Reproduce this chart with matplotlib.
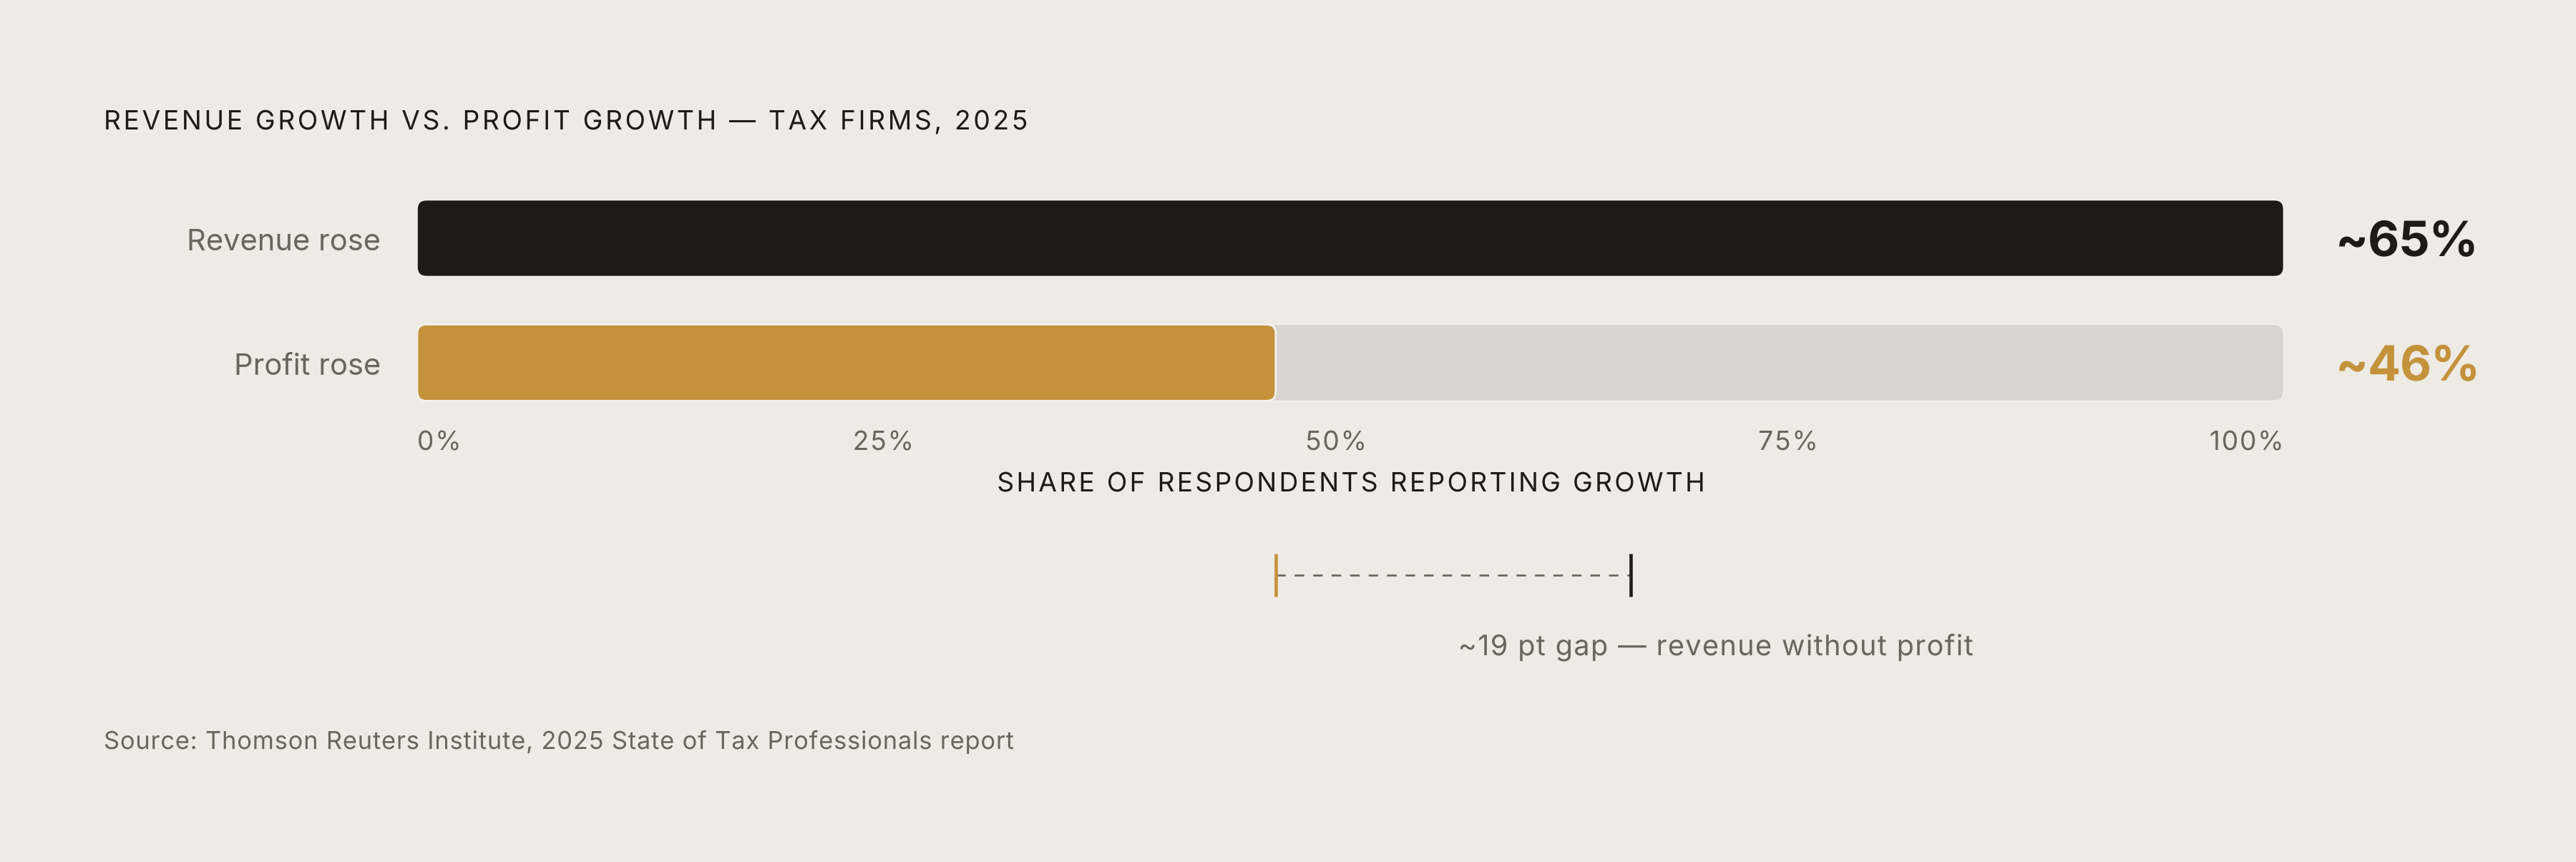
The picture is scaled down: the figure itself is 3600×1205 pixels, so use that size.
import numpy as np
import matplotlib
matplotlib.use("Agg")
import matplotlib.pyplot as plt
from matplotlib.patches import FancyBboxPatch
from matplotlib.path import Path
from matplotlib.patheffects import AbstractPathEffect
from matplotlib.textpath import text_to_path
from matplotlib.transforms import ScaledTranslation, blended_transform_factory

# ---------------- data ----------------
categories = ["Revenue rose", "Profit rose"]
values = [65, 46]
value_labels = ["~65%", "~46%"]
track_max = 100
tick_values = [0, 25, 50, 75, 100]
tick_labels = ["0%", "25%", "50%", "75%", "100%"]
title = "REVENUE GROWTH VS. PROFIT GROWTH — TAX FIRMS, 2025"
xlabel = "SHARE OF RESPONDENTS REPORTING GROWTH"
gap_label = "~19 pt gap — revenue without profit"
source = "Source: Thomson Reuters Institute, 2025 State of Tax Professionals report"

# ---------------- style ----------------
BG = "#EEEAE4"
DARK = "#1E1B16"
GOLD = "#C4923B"
TRACK = "#D9D6CF"
GREY = "#6A665E"
EDGE = "#F4F1EC"
bar_colors = [DARK, GOLD]
track_colors = [DARK, TRACK]

plt.rcParams["font.family"] = ["Inter", "DejaVu Sans"]
plt.rcParams["lines.scale_dashes"] = False

W, H, DPI = 3600, 1206, 300
fig = plt.figure(figsize=(W / DPI, H / DPI), dpi=DPI, facecolor=BG)


def fx(px):
    return px / W


def fy(py):
    return 1 - py / H


class Tracking(AbstractPathEffect):
    """Letter-spacing for a single Text object (keeps the text as one string)."""

    def __init__(self, s, prop, t_em, ha="left"):
        super().__init__()
        try:
            font = text_to_path._get_font(prop)
            info, _, _ = text_to_path.get_glyphs_with_font(font, s)
            self.xpos = np.array([g[1] for g in info], dtype=float)
        except Exception:
            self.xpos = np.array([0.0])
        self.T = t_em * text_to_path.FONT_SCALE
        n = len(self.xpos)
        self.shift0 = {"left": 0.0, "center": -(n - 1) * self.T / 2,
                       "right": -(n - 1) * self.T}[ha]

    def draw_path(self, renderer, gc, tpath, affine, rgbFace=None):
        v = np.array(tpath.vertices, dtype=float).copy()
        c = tpath.codes
        if c is not None and len(v):
            starts = np.flatnonzero(c == Path.MOVETO).tolist() + [len(c)]
            for a, b in zip(starts[:-1], starts[1:]):
                seg = v[a:b]
                m = c[a:b] != Path.CLOSEPOLY
                if not m.any():
                    continue
                cx = (seg[m, 0].min() + seg[m, 0].max()) / 2
                i = max(int(np.searchsorted(self.xpos, cx, side="right")) - 1, 0)
                v[a:b, 0] += i * self.T + self.shift0
        renderer.draw_path(gc, Path(v, c), affine, rgbFace)


def ttext(x, y, s, t_em, ha="left", **kw):
    txt = fig.text(x, y, s, ha=ha, **kw)
    txt.set_path_effects([Tracking(s, txt.get_fontproperties(), t_em, ha)])
    return txt


ax_left, ax_right = 583, 3191.5
ax_top, ax_bot = 247, 595
ax = fig.add_axes([fx(ax_left), fy(ax_bot), (ax_right - ax_left) / W, (ax_bot - ax_top) / H])
ax.set_xlim(0, track_max)
ax.set_ylim(len(categories) - 0.5, -0.5)
ax.axis("off")

px_per_x = (ax_right - ax_left) / track_max
px_per_y = (ax_bot - ax_top) / len(categories)
radius_px = 13
r = radius_px / px_per_x
aspect = px_per_x / px_per_y
bh = 0.615


def rbar(x0, width, yc, fc, ec, lw, z):
    p = FancyBboxPatch((x0, yc - bh / 2), width, bh,
                       boxstyle=f"round,pad=0,rounding_size={r}",
                       mutation_aspect=aspect, fc=fc, ec=ec, lw=lw, zorder=z)
    ax.add_patch(p)


for i, (cat, val) in enumerate(zip(categories, values)):
    rbar(0, track_max, i, track_colors[i], EDGE, 0.4, 1)
    if bar_colors[i] != track_colors[i]:
        rbar(0, val, i, bar_colors[i], EDGE, 0.7, 2)

# category labels (right aligned), value labels
fig_x_data_y = blended_transform_factory(fig.transFigure, ax.transData)
for i, cat in enumerate(categories):
    off = ScaledTranslation(0, -15.5 / DPI, fig.dpi_scale_trans)
    fig.text(fx(532), i, cat, transform=fig_x_data_y + off, ha="right", va="baseline",
             fontsize=10.0, color=GREY)
    off2 = ScaledTranslation(0, -25 / DPI, fig.dpi_scale_trans)
    ttext(fx(3264), i, value_labels[i], -0.015, ha="left", transform=fig_x_data_y + off2,
          va="baseline", fontsize=16.3, fontweight="bold", color=bar_colors[i])

# tick labels: spread edge-to-edge with equal gaps (space-between) under the track
tick_fs, tick_track = 8.9, 0.05
tick_texts = [ttext(0, fy(630), tl, tick_track, ha="left", va="baseline",
                    fontsize=tick_fs, color=GREY) for tl in tick_labels]
renderer = fig.canvas.get_renderer()
t_px = tick_track * tick_fs * DPI / 72
widths = [t.get_window_extent(renderer).width + (len(s) - 1) * t_px
          for t, s in zip(tick_texts, tick_labels)]
gap = (ax_right - ax_left - sum(widths)) / (len(tick_texts) - 1)
xcur = ax_left
for t, w in zip(tick_texts, widths):
    t.set_x(fx(xcur))
    xcur += w + gap

# axis label
data_x_fig_y = blended_transform_factory(ax.transData, fig.transFigure)
ttext(track_max / 2, fy(688), xlabel, 0.09, ha="center", transform=data_x_fig_y,
      va="baseline", fontsize=8.9, color=DARK)

# gap annotation
lo, hi = min(values), max(values)
ax.plot([lo, hi], [fy(805), fy(805)], transform=data_x_fig_y, color=GREY, lw=0.65,
        linestyle=(0, (3.2, 3.0)), clip_on=False, zorder=3)
ax.plot([lo, lo], [fy(775), fy(835)], transform=data_x_fig_y, color=GOLD, lw=1.1,
        solid_capstyle="butt", clip_on=False, zorder=4)
ax.plot([hi, hi], [fy(775), fy(835)], transform=data_x_fig_y, color=DARK, lw=1.1,
        solid_capstyle="butt", clip_on=False, zorder=4)
gap_off = ScaledTranslation(7 / DPI, 0, fig.dpi_scale_trans)
ttext((lo + hi) / 2, fy(917), gap_label, 0.035, ha="left",
      transform=data_x_fig_y + gap_off, va="baseline", fontsize=9.5, color=GREY)

# title & source
ttext(fx(145), fy(182), title, 0.10, ha="left", va="baseline", fontsize=8.9, color=DARK)
ttext(fx(145), fy(1048), source, 0.025, ha="left", va="baseline", fontsize=8.25, color=GREY)

fig.savefig("out.png", dpi=DPI, facecolor=BG)
